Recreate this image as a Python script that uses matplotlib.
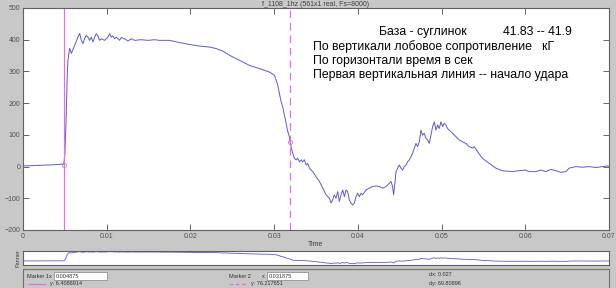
import matplotlib.pyplot as plt
from matplotlib.patches import Rectangle

BG_COLOR = '#c8c8c8'
LINE_COLOR = '#5a5ad2'
MARK_COLOR = '#e070e0'

# signal, (time s, value kG) pairs by segment
baseline = [(0.0, 2), (0.001, 3), (0.002, 4), (0.003, 5), (0.004, 6),
            (0.00475, 8), (0.004875, 6.4)]
rise = [(0.0050, 40), (0.00515, 150), (0.0053, 300), (0.00537, 335),
        (0.00557, 373), (0.00578, 357), (0.00593, 367), (0.00617, 382),
        (0.00656, 408), (0.00677, 420), (0.00697, 398), (0.00716, 388),
        (0.00737, 404), (0.00757, 414), (0.00776, 408), (0.00796, 398),
        (0.00816, 408), (0.00835, 393), (0.00856, 408), (0.00876, 419),
        (0.00895, 412), (0.00915, 398), (0.00936, 403), (0.00975, 398),
        (0.01014, 408), (0.01035, 419), (0.01055, 408), (0.01074, 412),
        (0.01094, 403), (0.01115, 408), (0.01154, 398), (0.01174, 407),
        (0.01214, 403), (0.01253, 396), (0.01294, 403), (0.01333, 398)]
plateau = [(0.01413, 400), (0.01492, 398), (0.01572, 400), (0.01631, 398),
           (0.01691, 398), (0.01750, 398), (0.01870, 391), (0.01989, 385),
           (0.02108, 380), (0.02228, 377), (0.02308, 372), (0.02387, 364),
           (0.02467, 351), (0.02586, 335), (0.02705, 319), (0.02825, 309),
           (0.02944, 298), (0.03003, 288)]
fall = [(0.03024, 272), (0.03043, 257), (0.03063, 230), (0.03083, 205),
        (0.03103, 188), (0.03123, 162), (0.03143, 136), (0.03163, 110),
        (0.03182, 94), (0.03190, 78), (0.03202, 63), (0.03222, 42),
        (0.03242, 26), (0.03262, 21), (0.03282, 26), (0.03302, 15),
        (0.03322, 21), (0.03341, 15), (0.03362, 21), (0.03382, 5),
        (0.03401, 10), (0.03421, -5), (0.03461, -16), (0.03501, -32),
        (0.03541, -47), (0.03580, -68), (0.03620, -89)]
trough = [(0.03660, -100), (0.03680, -115), (0.03699, -105), (0.03719, -89),
          (0.03739, -100), (0.03759, -79), (0.03779, -110), (0.03799, -89),
          (0.03819, -74), (0.03839, -95), (0.03859, -74), (0.03878, -79),
          (0.03898, -105), (0.03918, -115), (0.03938, -121), (0.03958, -115),
          (0.03978, -95), (0.03998, -84), (0.04018, -95), (0.04038, -84),
          (0.04057, -89), (0.04097, -74), (0.04137, -68), (0.04177, -63),
          (0.04217, -61), (0.04257, -63), (0.04296, -68), (0.04336, -63),
          (0.04376, -53), (0.04396, -47), (0.04415, -63), (0.04427, -89),
          (0.04447, -42)]
hump = [(0.04456, -16), (0.04475, -5), (0.04495, 5), (0.04515, -5),
        (0.04535, -11), (0.04555, 0), (0.04575, 5), (0.04594, 15),
        (0.04614, 21), (0.04634, 31), (0.04654, 42), (0.04674, 58),
        (0.04694, 73), (0.04714, 63), (0.04734, 78), (0.04754, 115),
        (0.04773, 99), (0.04793, 105), (0.04813, 89), (0.04833, 84),
        (0.04853, 73), (0.04873, 99), (0.04893, 126), (0.04913, 141),
        (0.04933, 115), (0.04952, 131), (0.04972, 120), (0.04992, 141),
        (0.05012, 126), (0.05032, 136), (0.05052, 131), (0.05072, 120),
        (0.05092, 115), (0.05131, 105), (0.05172, 94), (0.05211, 84),
        (0.05251, 78), (0.05290, 73), (0.05330, 63)]
tail = [(0.05370, 58), (0.05390, 63), (0.05430, 47), (0.05489, 26),
        (0.05569, 10), (0.05649, -5), (0.05728, -13), (0.05847, -16),
        (0.05927, -13), (0.06007, -11), (0.06046, -16), (0.06126, -16),
        (0.06186, -11), (0.06246, -16), (0.06305, -9), (0.06365, -13),
        (0.06425, -18), (0.06485, -16), (0.06524, -5), (0.06604, 0),
        (0.06683, -2), (0.06763, 0), (0.06843, -3), (0.06921, 0),
        (0.06981, 2), (0.07, 1)]

marker_1 = (0.004875, 6.4086914)
marker_2 = (0.031875, 76.217651)
x_ticks = [0, 0.01, 0.02, 0.03, 0.04, 0.05, 0.06, 0.07]
x_tick_labels = ['0', '0.01', '0.02', '0.03', '0.04', '0.05', '0.06', '0.07']
y_ticks = [-200, -100, 0, 100, 200, 300, 400, 500]

note_lines = ['По вертикали лобовое сопротивление   кГ',
              'По горизонтали время в сек',
              'Первая вертикальная линия -- начало удара']

signal = baseline + rise + plateau + fall + trough + hump + tail
t = [p[0] for p in signal]
v = [p[1] for p in signal]

plt.rcParams['font.family'] = ['Liberation Sans', 'DejaVu Sans']

fig = plt.figure(figsize=(6.16, 2.88), dpi=100, facecolor=BG_COLOR)

# main signal axes
ax = fig.add_axes([23 / 616, 1 - 230 / 288, 586 / 616, 222 / 288])
ax.plot(t, v, color=LINE_COLOR, lw=0.7)
ax.axvline(marker_1[0], color=MARK_COLOR, lw=0.9)
ax.axvline(marker_2[0], color=MARK_COLOR, lw=0.9, ls=(0, (6, 4)))
ax.plot(*marker_1, 'o', mfc='none', mec=MARK_COLOR, ms=3, mew=0.6)
ax.plot(*marker_2, 'o', mfc='none', mec=MARK_COLOR, ms=3, mew=0.6)
ax.set_xlim(0, 0.07)
ax.set_ylim(-200, 500)
ax.set_xticks(x_ticks)
ax.set_xticklabels(x_tick_labels)
ax.set_yticks(y_ticks)
ax.tick_params(direction='in', length=4, width=0.6, labelsize=5,
               top=True, right=True, pad=2, colors='#505050')
for s in ax.spines.values():
    s.set_color('#606060')
    s.set_linewidth(0.8)
ax.set_xlabel('Time', fontsize=5, labelpad=1, color='#404040')
ax.set_title('f_1108_1hz (561x1 real, Fs=8000)', fontsize=5, pad=1.5,
             color='#404040')

ax.text(0.607, 0.892, 'База - суглинок', transform=ax.transAxes,
        fontsize=8.8, ha='left', va='center')
ax.text(0.936, 0.892, '41.83 -- 41.9', transform=ax.transAxes,
        fontsize=8.8, ha='right', va='center')
for i, line in enumerate(note_lines):
    ax.text(0.495, 0.826 - i * 0.064, line, transform=ax.transAxes,
            fontsize=8.8, ha='left', va='center')

# panner
pan = fig.add_axes([23 / 616, 1 - 265 / 288, 586 / 616, 14 / 288])
pan.plot(t, v, color=LINE_COLOR, lw=0.6)
pan.set_xlim(0, 0.07)
pan.set_ylim(-180, 445)
pan.set_xticks([])
pan.set_yticks([])
pan.set_ylabel('Panner', fontsize=4, labelpad=2, color='#404040')
for s in pan.spines.values():
    s.set_color('#606060')
    s.set_linewidth(0.8)

# marker readout panel
panel = fig.add_axes([23 / 616, 0, 586 / 616, 19 / 288])
panel.set_xlim(0, 586)
panel.set_ylim(19, 0)
panel.axis('off')
panel.add_patch(Rectangle((0, 0), 586, 25, fill=False, ec='#707070', lw=0.8,
                          clip_on=False))
panel.add_patch(Rectangle((31, 3), 53, 8, fc='white', ec='#808080', lw=0.5))
panel.add_patch(Rectangle((244, 3), 41, 8, fc='white', ec='#808080', lw=0.5))
small = dict(fontsize=4, va='center', color='#303030')
panel.text(4, 7, 'Marker 1', **small)
panel.text(26, 7, 'x:', **small)
panel.text(33, 7, '%g' % marker_1[0], **small)
panel.text(206, 7, 'Marker 2', **small)
panel.text(239, 7, 'x:', **small)
panel.text(246, 7, '%g' % marker_2[0], **small)
panel.plot([6, 22], [15, 15], color=MARK_COLOR, lw=0.9)
panel.text(27, 15, 'y: %s' % '6.4086914', **small)
panel.plot([206, 222], [15, 15], color=MARK_COLOR, lw=0.9, ls=(0, (3, 2)))
panel.text(228, 15, 'y: %s' % '76.217651', **small)
panel.text(406, 5, 'dx: 0.027', **small)
panel.text(406, 15, 'dy: 69.80896', **small)

fig.savefig('out.png', dpi=100, facecolor=BG_COLOR)
